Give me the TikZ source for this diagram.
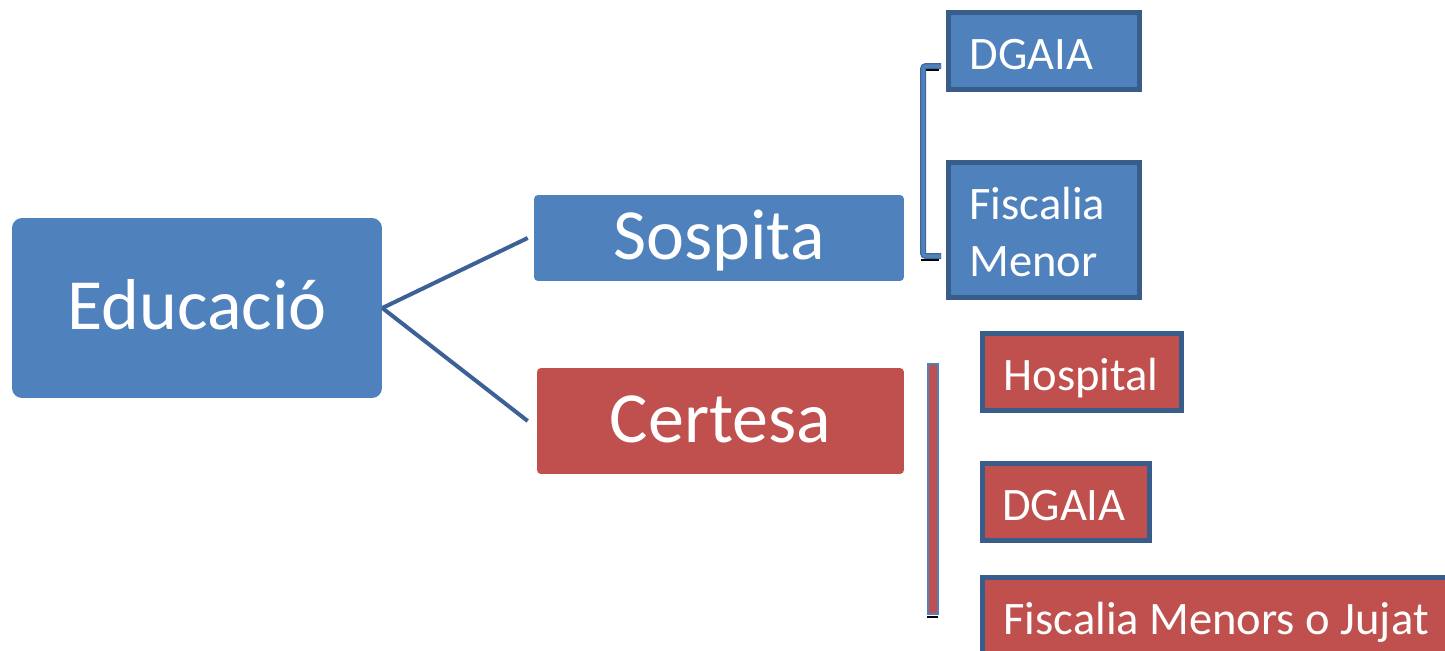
\documentclass[tikz,border=0pt]{standalone}
\usepackage{fontspec}
\setmainfont{Carlito}
\definecolor{boxblue}{HTML}{4F81BD}
\definecolor{boxred}{HTML}{C0504D}
\definecolor{edgeblue}{HTML}{385D8A}
\definecolor{linkblue}{HTML}{3C6196}
\begin{document}
\begin{tikzpicture}[x=0.02cm,y=-0.02cm,
		bigbox/.style={fill=#1,text=white,rounded corners=0.08cm,inner sep=0pt,font=\fontsize{41}{49}\selectfont,text height=26.4pt,text depth=2.3pt},
		smallbox/.style={fill=#1,draw=edgeblue,line width=0.1cm,text=white,inner ysep=0pt,inner xsep=0.43cm,align=flush left,anchor=north west,minimum height=1.56cm,font=\fontsize{26.5}{33}\selectfont,text height=20.5pt,text depth=0pt},
		link/.style={draw=linkblue,line width=0.08cm}]
		\useasboundingbox[fill=white] (0,0) rectangle (1445,650);
		\node[bigbox=boxblue,rounded corners=0.2cm,minimum width=7.4cm,minimum height=3.6cm] (edu) at (197,308) {Educació};
		\node[bigbox=boxblue,minimum width=7.4cm,minimum height=1.72cm] (sosp) at (719,238) {Sospita};
		\node[bigbox=boxred,minimum width=7.34cm,minimum height=2.12cm] (cert) at (720.5,421) {Certesa};
		\draw[link] (edu.east) -- ([xshift=-0.12cm]sosp.west);
		\draw[link] (edu.east) -- ([xshift=-0.18cm]cert.west);
		\node[smallbox=boxblue,text width=2.98cm] (dgaiaA) at (945.5,9.5) {DGAIA};
		\node[smallbox=boxblue,text width=2.98cm,minimum height=2.72cm,text depth=33pt] (fiscA) at (945.5,159.5) {Fiscalia\\Menor};
		\node[smallbox=boxred,text width=3.14cm] (hosp) at (979.5,330.5) {Hospital};
		\node[smallbox=boxred,text width=2.56cm,inner xsep=0.4cm] (dgaiaB) at (979.5,460.5) {DGAIA};
		\node[smallbox=boxred,text width=9.1cm] (fiscB) at (979.5,574.5) {Fiscalia Menors o Jujat};
		\draw[black,line width=0.04cm] (921,70) -- (939,70);
		\draw[black,line width=0.04cm] (921,260) -- (939,260);
		\draw[edgeblue!70!boxblue,line width=0.12cm,rounded corners=0.06cm] (941,66) -- (923,66) -- (923,256) -- (941,256);
		\draw[boxblue,line width=0.07cm,rounded corners=0.06cm] (941,66) -- (923,66) -- (923,256) -- (941,256);
		\draw[black,line width=0.04cm] (927,617) -- (938,617);
		\draw[draw=boxblue,fill=boxred,line width=0.04cm] (928,364) rectangle (938,614);
	\end{tikzpicture}
\end{document}
